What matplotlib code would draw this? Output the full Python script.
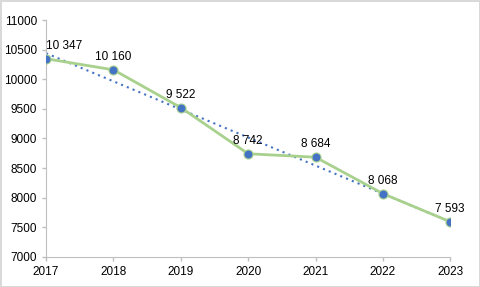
import numpy as np
import matplotlib
matplotlib.use("Agg")
import matplotlib.pyplot as plt

years = [2017, 2018, 2019, 2020, 2021, 2022, 2023]
values = [10347, 10160, 9522, 8742, 8684, 8068, 7593]
labels = ["10 347", "10 160", "9 522", "8 742", "8 684", "8 068", "7 593"]

plt.rcParams['font.family'] = ['Liberation Sans', 'DejaVu Sans']

fig = plt.figure(figsize=(4.8, 2.87), dpi=100)
fig.patch.set_edgecolor('#d9d9d9')
fig.patch.set_linewidth(2)
ax = fig.add_axes([0.096, 0.105, 0.842, 0.825])

# linear trend line
k, b = np.polyfit(years, values, 1)
ax.plot(years, np.polyval([k, b], years), color='#4472c4', lw=1.5,
        linestyle=(0, (1, 2)), zorder=2)

ax.plot(years, values, color='#a9d18e', lw=2, marker='o', markersize=6.5,
        markerfacecolor='#4472c4', markeredgecolor='#a9d18e', markeredgewidth=0.8, zorder=3)

for i, (x, y, t) in enumerate(zip(years, values, labels)):
    dx = 13 if i == 0 else 0
    ax.annotate(t, (x, y), xytext=(dx, 5), textcoords='offset points',
                ha='center', va='bottom', fontsize=8.5)

ax.set_xlim(2017, 2023)
ax.set_ylim(7000, 11000)
ax.set_xticks(years)
ax.set_yticks(range(7000, 11001, 500))
for s in ['top', 'right']:
    ax.spines[s].set_visible(False)
for s in ['left', 'bottom']:
    ax.spines[s].set_color('#bfbfbf')
ax.tick_params(colors='#bfbfbf', labelcolor='black', labelsize=8.5, length=3, width=1)

fig.savefig('out.png', dpi=100, edgecolor=fig.get_edgecolor())
